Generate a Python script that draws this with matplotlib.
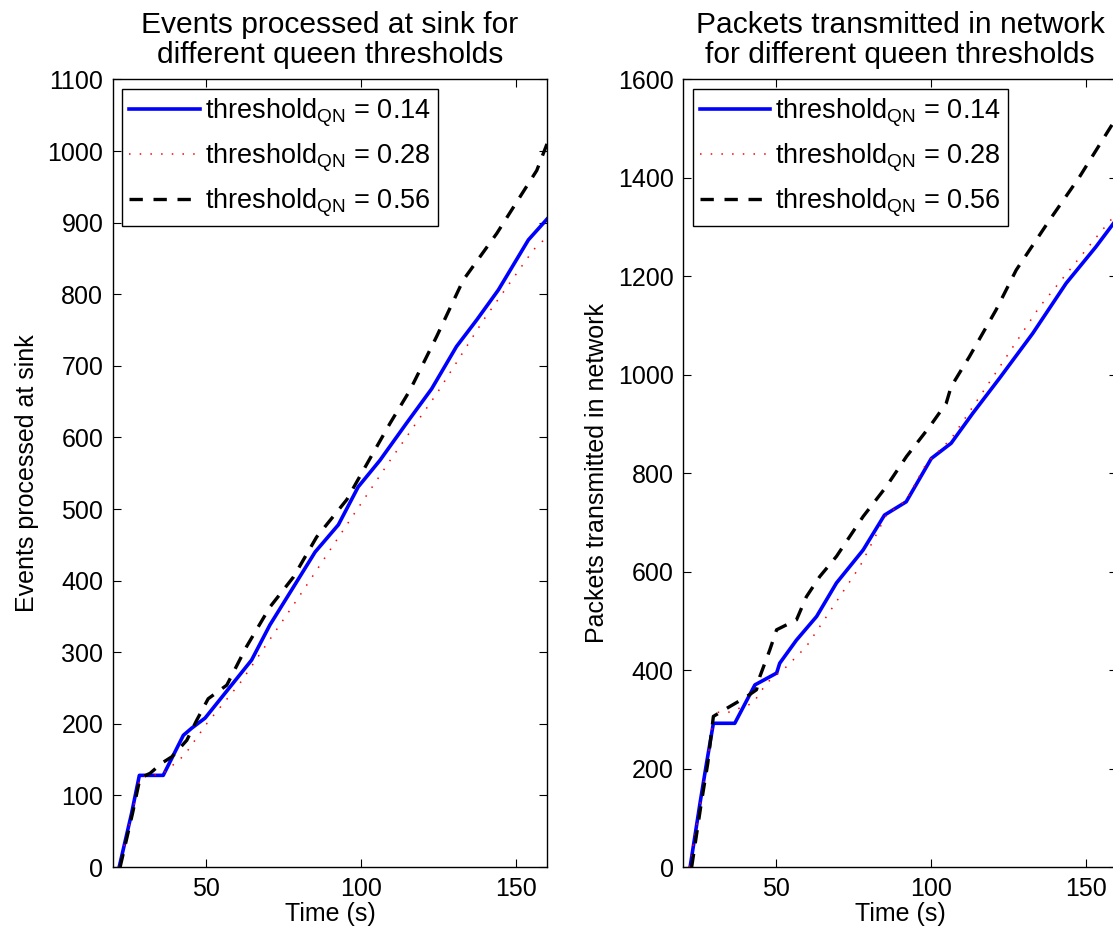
import matplotlib
matplotlib.use('Agg')
import matplotlib.pyplot as plt

plt.rcParams['font.family'] = ['Liberation Sans', 'DejaVu Sans']
plt.rcParams['font.size'] = 18

# DATA
# ============================================================================
labels = ['threshold$_{\\mathregular{QN}}$ = 0.14',
          'threshold$_{\\mathregular{QN}}$ = 0.28',
          'threshold$_{\\mathregular{QN}}$ = 0.56']

# events processed at sink
ev_t_014 = [22.0, 26.0, 28.5, 36.2, 42.7, 45.4, 49.7, 64.7, 70.6, 78.2, 85.2, 92.7,
            99.1, 106.1, 114.7, 122.8, 130.8, 137.3, 144.3, 154.0, 160.0]
ev_y_014 = [0, 75, 128, 128, 184, 194, 208, 289, 338, 391, 440, 478,
            531, 568, 620, 668, 727, 764, 806, 876, 905]
ev_t_028 = [22.0, 26.2, 28.8, 36.0, 43.0, 50.2, 61.0, 79.3, 96.5, 109.4, 124.4,
            139.5, 155.6, 160.0]
ev_y_028 = [0, 75, 126, 130, 156, 200, 257, 373, 485, 568, 661, 764, 862, 880]
ev_t_056 = [22.3, 26.3, 28.7, 32.0, 35.7, 39.0, 43.8, 47.0, 50.7, 56.7, 63.1, 70.6,
            78.2, 85.7, 95.4, 100.2, 109.4, 115.8, 124.4, 133.0, 143.8, 156.7, 160.0]
ev_y_056 = [0, 75, 124, 131, 145, 154, 177, 205, 235, 254, 308, 363,
            405, 461, 513, 550, 620, 666, 741, 820, 885, 973, 1010]

# packets transmitted in network
pk_t_014 = [22.2, 25.4, 27.5, 29.7, 36.6, 43.1, 50.1, 51.1, 56.5, 63.0, 69.4, 78.0,
            84.9, 91.9, 100.0, 106.4, 113.4, 122.0, 132.7, 143.5, 153.1, 160.0]
pk_y_014 = [0, 130, 211, 292, 292, 370, 394, 414, 461, 509, 577, 644,
            715, 742, 830, 861, 922, 993, 1084, 1186, 1260, 1318]
pk_t_028 = [22.0, 25.5, 27.7, 30.0, 34.0, 42.5, 46.9, 53.3, 59.7, 66.2, 76.9, 85.5,
            91.9, 98.4, 106.4, 113.4, 121.0, 134.9, 154.2, 160.0]
pk_y_028 = [0, 130, 211, 315, 313, 333, 374, 407, 448, 509, 610, 715,
            745, 820, 870, 935, 1006, 1138, 1287, 1330]
pk_t_056 = [22.7, 25.8, 27.9, 29.7, 35.0, 40.4, 43.6, 44.7, 47.9, 50.1, 56.5, 59.7,
            64.0, 69.4, 78.0, 85.5, 92.0, 99.5, 104.8, 106.4, 112.3, 120.9, 127.4,
            138.1, 147.8, 157.2, 160.0]
pk_y_056 = [0, 130, 211, 306, 326, 346, 360, 387, 441, 482, 502, 549,
            590, 631, 712, 773, 834, 895, 942, 976, 1037, 1132, 1213,
            1314, 1402, 1497, 1525]
# ============================================================================

fig = plt.figure(figsize=(11.13, 9.38), dpi=100)
ax1 = fig.add_axes([113 / 1113, 1 - 867 / 938, 434 / 1113, 787.5 / 938])
ax2 = fig.add_axes([683.3 / 1113, 1 - 867 / 938, 434 / 1113, 787.5 / 938])


def draw(ax, t1, y1, t2, y2, t3, y3):
    ax.plot(t1, y1, color='#0000ff', lw=2.6, label=labels[0])
    ax.plot(t2, y2, color='#ff0000', lw=1.1, ls=(0, (1, 6)), label=labels[1])
    ax.plot(t3, y3, color='black', lw=2.4, ls=(0, (4, 3.2)), label=labels[2])
    ax.set_xlim(20, 160)
    ax.set_xticks([50, 100, 150])
    ax.tick_params(direction='in', top=True, right=True, length=6, width=0.8, pad=7)
    for s in ax.spines.values():
        s.set_linewidth(1.0)
    ax.set_xlabel('Time (s)', labelpad=1)
    leg = ax.legend(loc='upper left', fancybox=False, framealpha=1, edgecolor='black',
                    fontsize=19.5, handlelength=2.6, borderaxespad=0.35,
                    labelspacing=0.45, handletextpad=0.2, borderpad=0.25)
    leg.get_frame().set_linewidth(1.0)


draw(ax1, ev_t_014, ev_y_014, ev_t_028, ev_y_028, ev_t_056, ev_y_056)
ax1.set_ylim(0, 1100)
ax1.set_yticks(range(0, 1101, 100))
ax1.set_ylabel('Events processed at sink', labelpad=6)
ax1.set_title('Events processed at sink for\ndifferent queen thresholds', pad=12,
              linespacing=1.1)

draw(ax2, pk_t_014, pk_y_014, pk_t_028, pk_y_028, pk_t_056, pk_y_056)
ax2.set_ylim(0, 1600)
ax2.set_yticks(range(0, 1601, 200))
ax2.set_ylabel('Packets transmitted in network', labelpad=6)
ax2.set_title('Packets transmitted in network\nfor different queen thresholds', pad=12,
              linespacing=1.1)

fig.savefig('out.png', dpi=100)
